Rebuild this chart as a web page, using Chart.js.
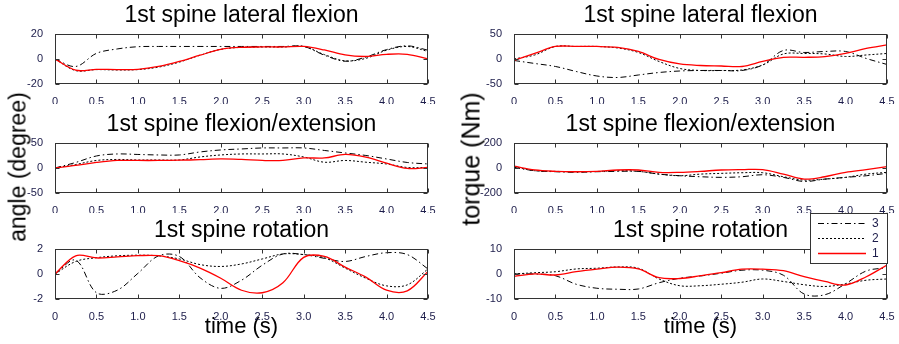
<!DOCTYPE html>
<html>
<head>
<meta charset="utf-8">
<script src="https://cdn.jsdelivr.net/npm/chart.js@4.4.0/dist/chart.umd.min.js"></script>
<style>
body{margin:0;background:#fff;width:899px;height:344px;overflow:hidden;position:relative;font-family:"Liberation Sans",Arial,sans-serif}
.box{position:absolute}
.ylab{position:absolute;white-space:nowrap;transform:translate(-50%,-50%) rotate(-90deg);color:#000;line-height:1}
</style>
</head>
<body>
<div class="box" style="left:0;top:0;width:445px;height:104px"><canvas id="c1"></canvas></div>
<div class="box" style="left:470px;top:0;width:429px;height:104px"><canvas id="c2"></canvas></div>
<div class="box" style="left:0;top:109px;width:445px;height:104px"><canvas id="c3"></canvas></div>
<div class="box" style="left:470px;top:109px;width:429px;height:104px"><canvas id="c4"></canvas></div>
<div class="box" style="left:0;top:215px;width:445px;height:125px"><canvas id="c5"></canvas></div>
<div class="box" style="left:470px;top:205px;width:429px;height:135px"><canvas id="c6"></canvas></div>
<div class="ylab" style="left:18px;top:167px;font-size:23px">angle (degree)</div>
<div class="ylab" style="left:471px;top:159px;font-size:25px">torque (Nm)</div>
<script>
// time axis (s)
var time = [0, 0.25, 0.5, 0.75, 1, 1.25, 1.5, 1.75, 2, 2.25, 2.5, 2.75, 3, 3.25, 3.5, 3.75, 4, 4.25, 4.5];
var seriesNames = ['1', '2', '3'];

// lateral flexion - angle
var lat1 = [0, -9, -8.3, -8.5, -8.3, -6, -2, 3, 7.7, 9.3, 9.6, 9.6, 10, 7.2, 3.2, 2, 3.7, 3.7, 0];
var lat2 = [0, -9.3, -8.5, -8.8, -8.5, -6.5, -2.5, 3, 7.7, 9.3, 9.6, 9.6, 10, 3.5, -1.5, 0.5, 7, 10, 6];
var lat3 = [0, -6, 4.5, 8, 9.8, 10, 10, 10, 10, 10, 10, 10, 10, 3, -1.8, 1.5, 7.5, 10.5, 7];
// lateral flexion - torque
var tlat1 = [-3, 11, 25, 25, 25, 23, 15, -1, -10, -13, -14, -15, -5, 3.3, 3.3, 4.7, 11, 21, 28];
var tlat2 = [0, 8, 25, 25, 25, 22, 13, -5, -19, -23, -23, -22, -12, 10, 11, 10, 5, 8, 11];
var tlat3 = [-3, -9, -15, -25, -34, -37, -32, -27, -24, -23, -23, -23, -12, 17, 13, 15, 15, 1, -11];
// flexion/extension - angle
var fl1 = [0, 5, 11, 15, 15, 15, 15.5, 16.5, 18, 17, 15, 15, 20, 20, 27, 21.6, 9.5, -1, 1];
var fl2 = [0, 7, 15, 17, 16, 16, 16, 22, 26, 28, 28, 28, 22, 11.5, 15, 11.5, 8, 1, 1];
var fl3 = [0, 11, 24, 28, 27, 26, 26, 32, 36, 38, 40, 40, 40, 35, 30, 25, 18, 11, 8];
// flexion/extension - torque
var tfl1 = [15, -16, -27, -30, -27, -16, -16, -35, -35, -27, -16, -13, -13, -49, -89, -70, -35, -13, 11];
var tfl2 = [10, -22, -27, -30, -28, -22, -27, -49, -62, -49, -43, -38, -38, -70, -97, -89, -75, -49, -35];
var tfl3 = [5, -22, -30, -35, -30, -27, -27, -49, -62, -70, -75, -70, -54, -75, -108, -89, -75, -62, -43];
// rotation - angle
var rot1 = [0, 1.45, 1.28, 1.36, 1.46, 1.46, 1.06, 0.47, -0.34, -1.3, -1.5, -0.7, 1.33, 1.4, 0.55, -0.25, -1.3, -1.35, 0.2];
var rot2 = [0, 1.0, 1.3, 1.45, 1.5, 1.45, 1.2, 0.75, 0.6, 0.8, 1.2, 1.6, 1.55, 1.3, 0.47, -0.34, -0.95, -0.87, 0.4];
var rot3 = [0, 1.1, -1.5, -1.3, 0.05, 1.45, 1.4, -0.3, -1.15, -0.5, 0.7, 1.6, 1.55, 1.25, 1.0, 1.4, 1.7, 1.55, 0.4];
// rotation - torque
var trot1 = [-1, 0, -0.4, 0.9, 1.9, 2.7, 2.0, -1.5, -1.8, -0.7, 0.5, 1.9, 1.9, 1.3, -1.1, -3.0, -4.4, -1.1, 3.6];
var trot2 = [0, 0.5, 0.9, 2.0, 2.3, 2.8, 2.3, -2.0, -4.7, -4.7, -4.1, -3.3, -2.0, -3.0, -4.3, -5.0, -4.0, -2.5, -2.0];
var trot3 = [0, 0, -0.7, -4.1, -5.7, -6.1, -6.0, -3.5, -1.7, -0.8, 0.3, 1.5, 1.5, -0.5, -8.0, -8.3, -3.9, 1.2, 2.5];

var tickColor = '#1c1c4a';
var fontFam = '"Liberation Sans", Arial, sans-serif';

// box round the plot + inward ticks, matlab style
var frame = {
	id: 'frame',
	afterDatasetsDraw: function(chart) {
		var ctx = chart.ctx, a = chart.chartArea, x = chart.scales.x, y = chart.scales.y;
		var l = Math.round(a.left) + 0.5, r = Math.round(a.right) - 0.5;
		var t = Math.round(a.top) + 0.5, b = Math.round(a.bottom) - 0.5;
		ctx.save();
		ctx.strokeStyle = '#333';
		ctx.lineWidth = 1;
		ctx.setLineDash([]);
		ctx.beginPath();
		x.ticks.forEach(function(tk) {
			var px = Math.round(x.getPixelForValue(tk.value)) + 0.5;
			ctx.moveTo(px, b); ctx.lineTo(px, b - 4);
			ctx.moveTo(px, t); ctx.lineTo(px, t + 4);
		});
		y.ticks.forEach(function(tk) {
			var py = Math.round(y.getPixelForValue(tk.value)) + 0.5;
			ctx.moveTo(l, py); ctx.lineTo(l + 4, py);
			ctx.moveTo(r, py); ctx.lineTo(r - 4, py);
		});
		ctx.stroke();
		ctx.strokeRect(l, t, r - l, b - t);
		ctx.restore();
	}
};

// legend box drawn from the datasets themselves (order 3,2,1)
var legendBox = {
	id: 'legendBox',
	afterDraw: function(chart, args, o) {
		if (!o.show) return;
		var ctx = chart.ctx;
		ctx.save();
		ctx.fillStyle = '#fff';
		ctx.fillRect(o.x, o.y, o.w, o.h);
		ctx.strokeStyle = '#333';
		ctx.lineWidth = 1;
		ctx.strokeRect(o.x + 0.5, o.y + 0.5, o.w, o.h);
		var sets = chart.data.datasets.slice().reverse();
		ctx.font = '12px ' + fontFam;
		ctx.textBaseline = 'middle';
		sets.forEach(function(ds, i) {
			var ly = o.y + 10.5 + i * 15;
			ctx.strokeStyle = ds.borderColor;
			ctx.lineWidth = ds.borderWidth;
			ctx.setLineDash(ds.borderDash || []);
			ctx.beginPath();
			ctx.moveTo(o.x + 8, ly);
			ctx.lineTo(o.x + 56, ly);
			ctx.stroke();
			ctx.fillStyle = tickColor;
			ctx.fillText(ds.label, o.x + 62, ly);
		});
		ctx.restore();
	}
};

function pts(vals) {
	return vals.map(function(v, i) { return {x: time[i], y: v}; });
}

function makeChart(id, title, yMax, s1, s2, s3, cfg) {
	var ctx = document.getElementById(id);
	return new Chart(ctx, {
		type: 'line',
		data: {
			datasets: [
				{label: seriesNames[0], data: pts(s1), borderColor: '#ff0000', borderWidth: 1.3},
				{label: seriesNames[1], data: pts(s2), borderColor: '#000', borderWidth: 1, borderDash: [2, 2]},
				{label: seriesNames[2], data: pts(s3), borderColor: '#000', borderWidth: 1, borderDash: [6, 3, 1.5, 3]}
			]
		},
		options: {
			responsive: true,
			maintainAspectRatio: false,
			animation: false,
			elements: {point: {radius: 0}, line: {tension: 0.35}},
			layout: {padding: {left: 0, right: cfg.right, top: 0, bottom: 0}},
			scales: {
				x: {
					type: 'linear', min: 0, max: 4.5,
					grid: {display: false}, border: {display: false},
					ticks: {stepSize: 0.5, color: tickColor, padding: 3, font: {size: 11, family: fontFam}},
					title: {display: !!cfg.xTitle, text: cfg.xTitle || '', color: '#000', padding: 0, font: {size: 22, family: fontFam}},
					afterFit: function(s) { s.height = cfg.xh; }
				},
				y: {
					min: -yMax, max: yMax,
					grid: {display: false}, border: {display: false},
					ticks: {stepSize: yMax, color: tickColor, padding: 4, font: {size: 11, family: fontFam}},
					afterFit: function(s) { s.width = cfg.yw; }
				}
			},
			plugins: {
				title: {display: true, text: title, color: '#000', fullSize: false,
					font: {size: 23, weight: 'normal', family: fontFam, lineHeight: 1.15},
					padding: {top: (cfg.tp || 0) + 2, bottom: 5.5}},
				legend: {display: false},
				tooltip: {enabled: false},
				legendBox: cfg.legend || {show: false}
			}
		},
		plugins: [frame, legendBox]
	});
}

makeChart('c1', '1st spine lateral flexion', 20, lat1, lat2, lat3, {right: 17, yw: 55, xh: 20});
makeChart('c2', '1st spine lateral flexion', 50, tlat1, tlat2, tlat3, {right: 12, yw: 44, xh: 20});
makeChart('c3', '1st spine flexion/extension', 50, fl1, fl2, fl3, {right: 17, yw: 55, xh: 20});
makeChart('c4', '1st spine flexion/extension', 200, tfl1, tfl2, tfl3, {right: 12, yw: 44, xh: 20});
makeChart('c5', '1st spine rotation', 2, rot1, rot2, rot3, {right: 17, yw: 55, xh: 41, xTitle: 'time (s)'});
makeChart('c6', '1st spine rotation', 10, trot1, trot2, trot3, {right: 12, yw: 44, xh: 41, xTitle: 'time (s)', tp: 10,
	legend: {show: true, x: 340, y: 8, w: 77, h: 50}});
</script>
</body>
</html>
